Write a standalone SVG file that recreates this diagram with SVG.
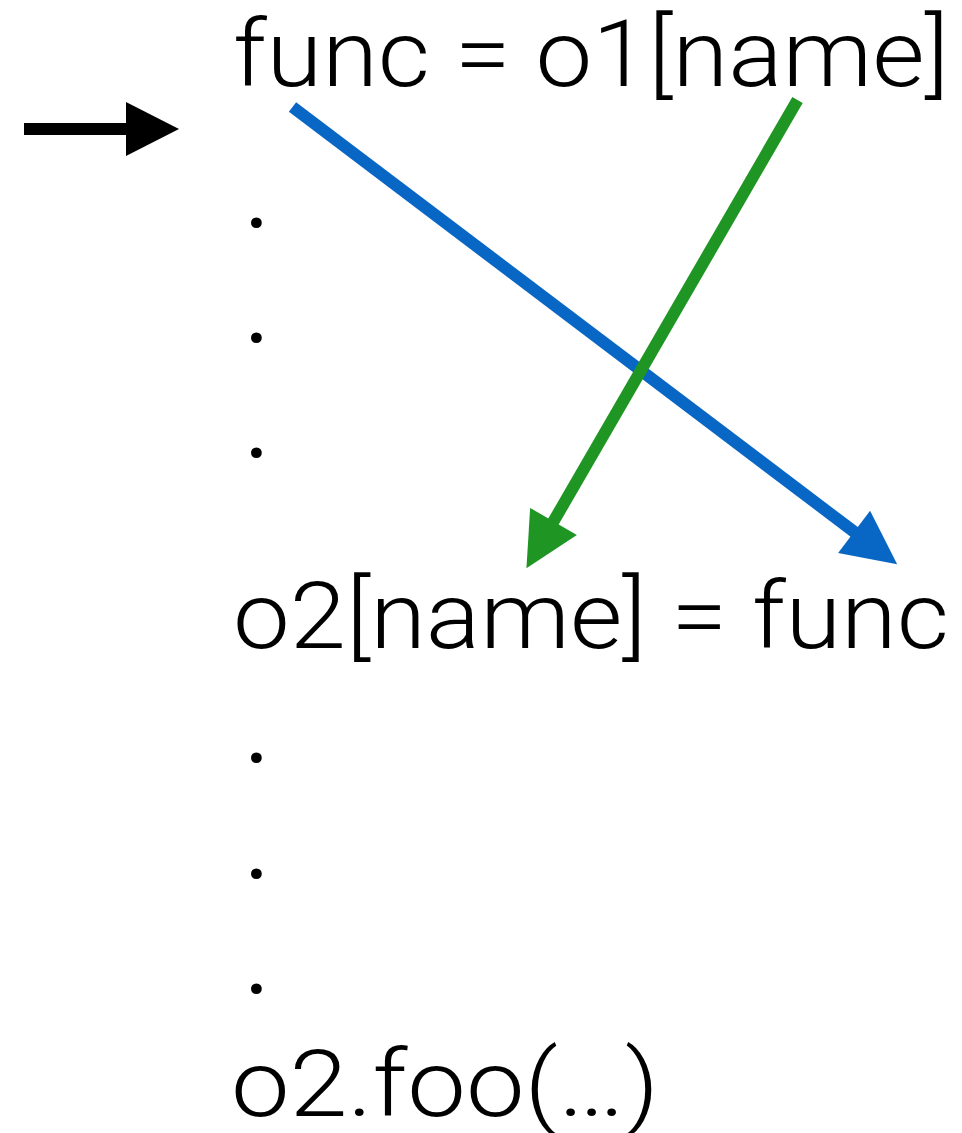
<svg xmlns="http://www.w3.org/2000/svg" width="962" height="1133" viewBox="0 0 962 1133">
  <style>
    .code { font-family: Roboto, "Liberation Sans", Arial, sans-serif; font-weight: 300; font-size: 92px; fill: #000; }
    .dot { font-family: Roboto, "Liberation Sans", Arial, sans-serif; font-weight: 400; font-size: 96px; fill: #000; text-anchor: middle; }
    .conn { fill: none; stroke-width: 12; stroke-linecap: butt; }
  </style>
  <defs>
    <marker id="headBlack" markerUnits="userSpaceOnUse" markerWidth="60" markerHeight="60" viewBox="0 -30 56 60" refX="1" refY="0" orient="auto">
      <path d="M0,-27 L53,0 L0,27 Z" fill="#000"/>
    </marker>
    <marker id="headBlue" markerUnits="userSpaceOnUse" markerWidth="60" markerHeight="60" viewBox="0 -30 56 60" refX="1" refY="0" orient="auto">
      <path d="M0,-26.5 L54,0 L0,26.5 Z" fill="#0866C4"/>
    </marker>
    <marker id="headGreen" markerUnits="userSpaceOnUse" markerWidth="60" markerHeight="60" viewBox="0 -30 56 60" refX="1" refY="0" orient="auto">
      <path d="M0,-27 L54,0 L0,27 Z" fill="#1F9623"/>
    </marker>
  </defs>
  <rect width="962" height="1133" fill="#fff"/>

  <g id="line1">
    <text class="code" x="233" y="86" textLength="716" lengthAdjust="spacingAndGlyphs">func = o1[name]</text>
  </g>
  <g id="dots1">
    <text class="dot" x="257" y="227">.</text>
    <text class="dot" x="257" y="342">.</text>
    <text class="dot" x="257" y="457">.</text>
  </g>
  <g id="line2">
    <text class="code" x="233" y="648" textLength="716" lengthAdjust="spacingAndGlyphs">o2[name] = func</text>
  </g>
  <g id="dots2">
    <text class="dot" x="257" y="762">.</text>
    <text class="dot" x="257" y="878">.</text>
    <text class="dot" x="257" y="993">.</text>
  </g>
  <g id="line3">
    <text class="code" x="231" y="1116" textLength="428" lengthAdjust="spacingAndGlyphs">o2.foo(…)</text>
  </g>

  <g id="connectors">
    <line class="conn" x1="24" y1="129" x2="127" y2="129" stroke="#000" stroke-width="13" marker-end="url(#headBlack)"/>
    <line class="conn" x1="292.5" y1="107" x2="854.9" y2="532.4" stroke="#0866C4" marker-end="url(#headBlue)"/>
    <line class="conn" x1="797.5" y1="100" x2="553" y2="522.3" stroke="#1F9623" marker-end="url(#headGreen)"/>
  </g>
</svg>
